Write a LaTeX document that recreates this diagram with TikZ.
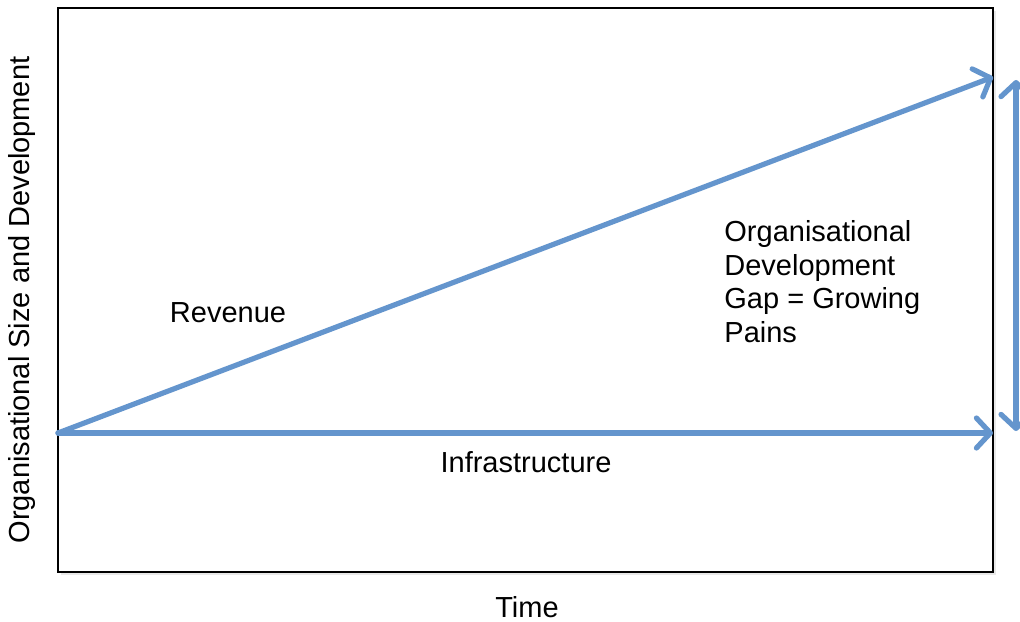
\documentclass[tikz,border=0pt]{standalone}
\usepackage{fontspec}
\setmainfont{Liberation Sans}
\usepackage{tikz}
\usetikzlibrary{arrows.meta,positioning}
\definecolor{growblue}{HTML}{6495CD}
\definecolor{framegrey}{HTML}{D8D8D8}

\begin{document}
\begin{tikzpicture}[
x=0.5pt,y=-0.5pt,
every node/.style={font=\fontsize{14.5}{16.8}\selectfont,inner sep=0pt},
frame/.style={draw=black,line width=1pt},
growth/.style={draw=growblue,line width=2.6pt,line cap=round,
-{Straight Barb[length=7pt,width=15pt,line width=2.6pt,line cap=round,round]}},
gap/.style={growth,{Straight Barb[length=7pt,width=15pt,line width=2.6pt,line cap=round,round]}-{Straight Barb[length=7pt,width=15pt,line width=2.6pt,line cap=round,round]}},
lbl/.style={align=left,anchor=north west}
]
\useasboundingbox (0,0) rectangle (1020,621);
\clip (0,0) rectangle (1020,621);

% chart frame with a light shadow
\fill[framegrey,opacity=0.6] (61,11) rectangle (996,575);
\fill[white] (58,8) rectangle (993,572);
\draw[frame] (58,8) rectangle (993,572);

\coordinate (origin) at (58,433);
\coordinate (revend) at (993,77);
\coordinate (infend) at (993,433);
\coordinate (gaptop) at (1016,80);
\coordinate (gapbot) at (1016,431);

\draw[growth] (origin) -- (revend);
\draw[growth] (origin) -- (infend);
\draw[gap] (gapbot) -- (gaptop);

\node (revenue) at (228,313) {Revenue};
\node (infra) at (526,462) {Infrastructure};
\node[lbl] (gaptext) at (724,220) {Organisational\\Development\\Gap = Growing\\Pains};
\node (time) at (527,607) {Time};
\node[rotate=90] (size) at (22,300) {Organisational Size and Development};
\end{tikzpicture}
\end{document}
